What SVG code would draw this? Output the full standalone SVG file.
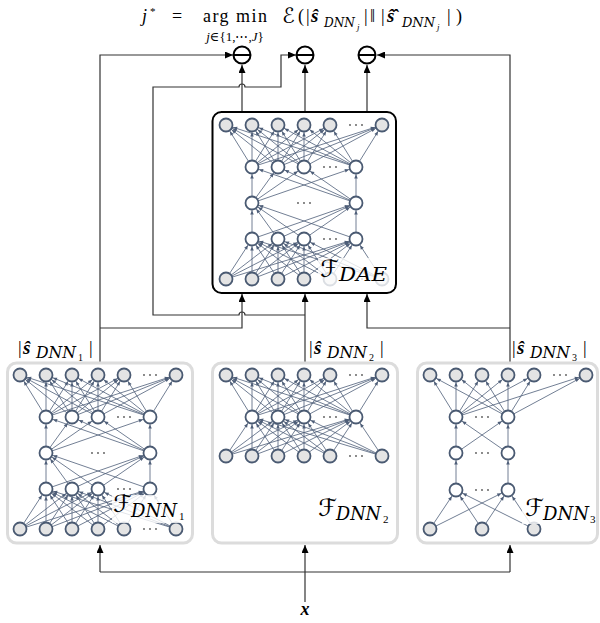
<svg xmlns="http://www.w3.org/2000/svg" width="600" height="623" viewBox="0 0 600 623">
<style>
.dae{fill:#fff;stroke:#000;stroke-width:2}
.dnn{fill:#fff;stroke:#dcdcdc;stroke-width:3}
.e line{stroke:#4e5e78;stroke-width:0.8;marker-end:url(#sa)}
.ng{fill:#e4e4e4;stroke:#4a5a72;stroke-width:1.8}
.nw{fill:#fff;stroke:#4a5a72;stroke-width:1.8}
.dt{fill:#555}
.c{fill:none;stroke:#333;stroke-width:1.2}
.ca{fill:none;stroke:#333;stroke-width:1.2;marker-end:url(#ba)}
.op{fill:#fff;stroke:#000;stroke-width:2}
.t{font-family:"Liberation Serif","DejaVu Serif",serif;fill:#000;font-weight:normal}
.u{font-family:"DejaVu Serif","Liberation Serif",serif;fill:#000;font-weight:normal;font-style:italic}
.s{font-family:"DejaVu Sans","Noto Sans",sans-serif;fill:#000;font-weight:normal}
.i{font-style:italic}
.b{font-weight:bold;font-style:italic}
.lb{fill:#fff;opacity:0.8}
</style>
<defs>
<marker id="sa" markerUnits="userSpaceOnUse" markerWidth="20" markerHeight="20" refX="11.6" refY="0" orient="auto" style="overflow:visible"><path d="M0,-1.8 L4.2,0 L0,1.8 z" fill="#4e5e78"/></marker>
<marker id="ba" markerUnits="userSpaceOnUse" markerWidth="8" markerHeight="7" refX="8" refY="3.5" orient="auto"><path d="M0,0 L8,3.5 L0,7 z" fill="#000"/></marker>
<g id="d" class="dt"><circle cx="-6" r="0.9"/><circle r="0.9"/><circle cx="6" r="0.9"/></g>
<g id="n5">
<g class="e">
<line x1="0" y1="154" x2="26" y2="114"/><line x1="0" y1="154" x2="52" y2="114"/><line x1="0" y1="154" x2="78" y2="114"/><line x1="0" y1="154" x2="130" y2="114"/>
<line x1="26" y1="154" x2="26" y2="114"/><line x1="26" y1="154" x2="52" y2="114"/><line x1="26" y1="154" x2="78" y2="114"/><line x1="26" y1="154" x2="130" y2="114"/>
<line x1="52" y1="154" x2="26" y2="114"/><line x1="52" y1="154" x2="52" y2="114"/><line x1="52" y1="154" x2="78" y2="114"/><line x1="52" y1="154" x2="130" y2="114"/>
<line x1="78" y1="154" x2="26" y2="114"/><line x1="78" y1="154" x2="52" y2="114"/><line x1="78" y1="154" x2="78" y2="114"/><line x1="78" y1="154" x2="130" y2="114"/>
<line x1="104" y1="154" x2="26" y2="114"/><line x1="104" y1="154" x2="52" y2="114"/><line x1="104" y1="154" x2="78" y2="114"/><line x1="104" y1="154" x2="130" y2="114"/>
<line x1="156" y1="154" x2="26" y2="114"/><line x1="156" y1="154" x2="52" y2="114"/><line x1="156" y1="154" x2="78" y2="114"/><line x1="156" y1="154" x2="130" y2="114"/>
<line x1="26" y1="114" x2="26" y2="78"/><line x1="26" y1="114" x2="130" y2="78"/>
<line x1="52" y1="114" x2="26" y2="78"/><line x1="52" y1="114" x2="130" y2="78"/>
<line x1="78" y1="114" x2="26" y2="78"/><line x1="78" y1="114" x2="130" y2="78"/>
<line x1="130" y1="114" x2="26" y2="78"/><line x1="130" y1="114" x2="130" y2="78"/>
<line x1="26" y1="78" x2="26" y2="42"/><line x1="26" y1="78" x2="52" y2="42"/><line x1="26" y1="78" x2="78" y2="42"/><line x1="26" y1="78" x2="130" y2="42"/>
<line x1="130" y1="78" x2="26" y2="42"/><line x1="130" y1="78" x2="52" y2="42"/><line x1="130" y1="78" x2="78" y2="42"/><line x1="130" y1="78" x2="130" y2="42"/>
<line x1="26" y1="42" x2="0" y2="0"/><line x1="26" y1="42" x2="26" y2="0"/><line x1="26" y1="42" x2="52" y2="0"/><line x1="26" y1="42" x2="78" y2="0"/><line x1="26" y1="42" x2="104" y2="0"/><line x1="26" y1="42" x2="156" y2="0"/>
<line x1="52" y1="42" x2="0" y2="0"/><line x1="52" y1="42" x2="26" y2="0"/><line x1="52" y1="42" x2="52" y2="0"/><line x1="52" y1="42" x2="78" y2="0"/><line x1="52" y1="42" x2="104" y2="0"/><line x1="52" y1="42" x2="156" y2="0"/>
<line x1="78" y1="42" x2="0" y2="0"/><line x1="78" y1="42" x2="26" y2="0"/><line x1="78" y1="42" x2="52" y2="0"/><line x1="78" y1="42" x2="78" y2="0"/><line x1="78" y1="42" x2="104" y2="0"/><line x1="78" y1="42" x2="156" y2="0"/>
<line x1="130" y1="42" x2="0" y2="0"/><line x1="130" y1="42" x2="26" y2="0"/><line x1="130" y1="42" x2="52" y2="0"/><line x1="130" y1="42" x2="78" y2="0"/><line x1="130" y1="42" x2="104" y2="0"/><line x1="130" y1="42" x2="156" y2="0"/>
</g>
<g class="ng"><circle cx="0" cy="0" r="6.5"/><circle cx="26" cy="0" r="6.5"/><circle cx="52" cy="0" r="6.5"/><circle cx="78" cy="0" r="6.5"/><circle cx="104" cy="0" r="6.5"/><circle cx="156" cy="0" r="6.5"/></g>
<g class="nw"><circle cx="26" cy="42" r="6.5"/><circle cx="52" cy="42" r="6.5"/><circle cx="78" cy="42" r="6.5"/><circle cx="130" cy="42" r="6.5"/>
<circle cx="26" cy="78" r="6.5"/><circle cx="130" cy="78" r="6.5"/>
<circle cx="26" cy="114" r="6.5"/><circle cx="52" cy="114" r="6.5"/><circle cx="78" cy="114" r="6.5"/><circle cx="130" cy="114" r="6.5"/></g>
<g class="ng"><circle cx="0" cy="154" r="6.5"/><circle cx="26" cy="154" r="6.5"/><circle cx="52" cy="154" r="6.5"/><circle cx="78" cy="154" r="6.5"/><circle cx="104" cy="154" r="6.5"/><circle cx="156" cy="154" r="6.5"/></g>
<use href="#d" x="130" y="0"/><use href="#d" x="104" y="42"/><use href="#d" x="78" y="78"/><use href="#d" x="104" y="114"/><use href="#d" x="130" y="154"/>
</g>
</defs>

<g id="formula">
<text class="t i" x="142" y="22" font-size="18">j</text>
<text class="t" x="150" y="15" font-size="11">*</text>
<text class="t" x="172" y="22" font-size="18">=</text>
<text class="t" x="203" y="22" font-size="18" textLength="64" lengthAdjust="spacing">arg min</text>
<text class="t" x="235" y="41" font-size="13" text-anchor="middle"><tspan class="i">j</tspan>∈{1,⋯,<tspan class="i">J</tspan>}</text>
<text class="s i" x="282" y="23" font-size="21">ℰ</text>
<text class="t" x="298" y="22" font-size="18">(</text>
<text class="t" x="306" y="22" font-size="18">|</text>
<text class="t b" x="311" y="22" font-size="19">ŝ</text>
<text class="u" x="324" y="27" font-size="13" textLength="31" lengthAdjust="spacingAndGlyphs">DNN</text>
<text class="t i" x="357" y="30" font-size="9">j</text>
<text class="t" x="364" y="22" font-size="18">|</text>
<text class="t" x="370" y="22" font-size="18">‖</text>
<text class="t" x="381" y="22" font-size="18">|</text>
<text class="t b" x="387" y="22" font-size="19">ŝ̂</text>
<text class="u" x="402" y="27" font-size="13" textLength="33" lengthAdjust="spacingAndGlyphs">DNN</text>
<text class="t i" x="437" y="30" font-size="9">j</text>
<text class="t" x="447" y="22" font-size="18">|</text>
<text class="t" x="456" y="22" font-size="18">)</text>
</g>

<g id="connectors">
<path class="ca" d="M100,362 V55 H233"/>
<path class="ca" d="M100,328 H242 V294"/>
<path class="ca" d="M305,362 V294"/>
<path class="ca" d="M305,315 H245 A3,3 0 0 0 239,315 H153 V87 H239 A3,3 0 0 1 245,87 H281 V55 H296"/>
<path class="ca" d="M510,362 V55 H377"/>
<path class="ca" d="M510,328 H367 V294"/>
<path class="ca" d="M242,112 V65"/>
<path class="ca" d="M305,112 V65"/>
<path class="ca" d="M367,112 V65"/>
<path class="ca" d="M305,602 V545"/>
<path class="c" d="M100,572 H510"/>
<path class="ca" d="M100,572 V545"/>
<path class="ca" d="M510,572 V545"/>
</g>

<g id="minus1"><circle class="op" cx="242" cy="55" r="8.5"/><line x1="233.5" y1="55" x2="250.5" y2="55" stroke="#000" stroke-width="2"/></g>
<g id="minus2"><circle class="op" cx="305" cy="55" r="8.5"/><line x1="296.5" y1="55" x2="313.5" y2="55" stroke="#000" stroke-width="2"/></g>
<g id="minus3"><circle class="op" cx="367" cy="55" r="8.5"/><line x1="358.5" y1="55" x2="375.5" y2="55" stroke="#000" stroke-width="2"/></g>

<g id="DAE">
<rect class="dae" x="212.5" y="112" width="183.5" height="181" rx="9"/>
<use href="#n5" x="226" y="125"/>
<rect class="lb" x="318" y="258" width="76" height="31"/>
<text class="s i" x="320" y="277" font-size="24">ℱ</text>
<text class="u" x="339" y="281" font-size="19" textLength="48" lengthAdjust="spacingAndGlyphs">DAE</text>
</g>

<g id="DNN1">
<rect class="dnn" x="7.5" y="363" width="185" height="180" rx="9"/>
<use href="#n5" x="20" y="375"/>
<rect class="lb" x="112" y="495" width="78" height="28"/>
<text class="s i" x="113" y="512" font-size="24">ℱ</text>
<text class="u" x="131" y="517" font-size="18" textLength="46" lengthAdjust="spacingAndGlyphs">DNN</text>
<text class="t" x="179" y="520" font-size="11">1</text>
</g>

<g id="DNN2">
<rect class="dnn" x="212.5" y="363" width="185" height="180" rx="9"/>
<g transform="translate(226,375)">
<g class="e">
<line x1="0" y1="81" x2="26" y2="42"/><line x1="0" y1="81" x2="52" y2="42"/><line x1="0" y1="81" x2="78" y2="42"/><line x1="0" y1="81" x2="130" y2="42"/>
<line x1="26" y1="81" x2="26" y2="42"/><line x1="26" y1="81" x2="52" y2="42"/><line x1="26" y1="81" x2="78" y2="42"/><line x1="26" y1="81" x2="130" y2="42"/>
<line x1="52" y1="81" x2="26" y2="42"/><line x1="52" y1="81" x2="52" y2="42"/><line x1="52" y1="81" x2="78" y2="42"/><line x1="52" y1="81" x2="130" y2="42"/>
<line x1="78" y1="81" x2="26" y2="42"/><line x1="78" y1="81" x2="52" y2="42"/><line x1="78" y1="81" x2="78" y2="42"/><line x1="78" y1="81" x2="130" y2="42"/>
<line x1="104" y1="81" x2="26" y2="42"/><line x1="104" y1="81" x2="52" y2="42"/><line x1="104" y1="81" x2="78" y2="42"/><line x1="104" y1="81" x2="130" y2="42"/>
<line x1="156" y1="81" x2="26" y2="42"/><line x1="156" y1="81" x2="52" y2="42"/><line x1="156" y1="81" x2="78" y2="42"/><line x1="156" y1="81" x2="130" y2="42"/>
<line x1="26" y1="42" x2="0" y2="0"/><line x1="26" y1="42" x2="26" y2="0"/><line x1="26" y1="42" x2="52" y2="0"/><line x1="26" y1="42" x2="78" y2="0"/><line x1="26" y1="42" x2="104" y2="0"/><line x1="26" y1="42" x2="156" y2="0"/>
<line x1="52" y1="42" x2="0" y2="0"/><line x1="52" y1="42" x2="26" y2="0"/><line x1="52" y1="42" x2="52" y2="0"/><line x1="52" y1="42" x2="78" y2="0"/><line x1="52" y1="42" x2="104" y2="0"/><line x1="52" y1="42" x2="156" y2="0"/>
<line x1="78" y1="42" x2="0" y2="0"/><line x1="78" y1="42" x2="26" y2="0"/><line x1="78" y1="42" x2="52" y2="0"/><line x1="78" y1="42" x2="78" y2="0"/><line x1="78" y1="42" x2="104" y2="0"/><line x1="78" y1="42" x2="156" y2="0"/>
<line x1="130" y1="42" x2="0" y2="0"/><line x1="130" y1="42" x2="26" y2="0"/><line x1="130" y1="42" x2="52" y2="0"/><line x1="130" y1="42" x2="78" y2="0"/><line x1="130" y1="42" x2="104" y2="0"/><line x1="130" y1="42" x2="156" y2="0"/>
</g>
<g class="ng"><circle cx="0" cy="0" r="6.5"/><circle cx="26" cy="0" r="6.5"/><circle cx="52" cy="0" r="6.5"/><circle cx="78" cy="0" r="6.5"/><circle cx="104" cy="0" r="6.5"/><circle cx="156" cy="0" r="6.5"/>
<circle cx="0" cy="81" r="6.5"/><circle cx="26" cy="81" r="6.5"/><circle cx="52" cy="81" r="6.5"/><circle cx="78" cy="81" r="6.5"/><circle cx="104" cy="81" r="6.5"/><circle cx="156" cy="81" r="6.5"/></g>
<g class="nw"><circle cx="26" cy="42" r="6.5"/><circle cx="52" cy="42" r="6.5"/><circle cx="78" cy="42" r="6.5"/><circle cx="130" cy="42" r="6.5"/></g>
<use href="#d" x="130" y="0"/><use href="#d" x="104" y="42"/><use href="#d" x="130" y="81"/>
</g>
<text class="s i" x="318" y="516" font-size="24">ℱ</text>
<text class="u" x="336" y="520" font-size="18" textLength="45" lengthAdjust="spacingAndGlyphs">DNN</text>
<text class="t" x="383" y="523" font-size="11">2</text>
</g>

<g id="DNN3">
<rect class="dnn" x="417.5" y="363" width="180" height="180" rx="9"/>
<g transform="translate(430,375)">
<g class="e">
<line x1="0" y1="154" x2="26" y2="115"/><line x1="0" y1="154" x2="78" y2="115"/>
<line x1="52" y1="154" x2="26" y2="115"/><line x1="52" y1="154" x2="78" y2="115"/>
<line x1="104" y1="154" x2="26" y2="115"/><line x1="104" y1="154" x2="78" y2="115"/>
<line x1="26" y1="115" x2="26" y2="78"/><line x1="78" y1="115" x2="78" y2="78"/>
<line x1="26" y1="78" x2="26" y2="42"/><line x1="26" y1="78" x2="78" y2="42"/><line x1="78" y1="78" x2="26" y2="42"/><line x1="78" y1="78" x2="78" y2="42"/>
<line x1="26" y1="42" x2="0" y2="0"/><line x1="26" y1="42" x2="26" y2="0"/><line x1="26" y1="42" x2="52" y2="0"/><line x1="26" y1="42" x2="78" y2="0"/><line x1="26" y1="42" x2="104" y2="0"/><line x1="26" y1="42" x2="156" y2="0"/>
<line x1="78" y1="42" x2="0" y2="0"/><line x1="78" y1="42" x2="26" y2="0"/><line x1="78" y1="42" x2="52" y2="0"/><line x1="78" y1="42" x2="78" y2="0"/><line x1="78" y1="42" x2="104" y2="0"/><line x1="78" y1="42" x2="156" y2="0"/>
</g>
<g class="ng"><circle cx="0" cy="0" r="6.5"/><circle cx="26" cy="0" r="6.5"/><circle cx="52" cy="0" r="6.5"/><circle cx="78" cy="0" r="6.5"/><circle cx="104" cy="0" r="6.5"/><circle cx="156" cy="0" r="6.5"/>
<circle cx="0" cy="154" r="6.5"/><circle cx="52" cy="154" r="6.5"/><circle cx="104" cy="154" r="6.5"/></g>
<g class="nw"><circle cx="26" cy="42" r="6.5"/><circle cx="78" cy="42" r="6.5"/><circle cx="26" cy="78" r="6.5"/><circle cx="78" cy="78" r="6.5"/><circle cx="26" cy="115" r="6.5"/><circle cx="78" cy="115" r="6.5"/></g>
<use href="#d" x="130" y="0"/><use href="#d" x="52" y="42"/><use href="#d" x="52" y="78"/><use href="#d" x="52" y="115"/>
</g>
<rect class="lb" x="522" y="495" width="74" height="29"/>
<text class="s i" x="525" y="516" font-size="24">ℱ</text>
<text class="u" x="543" y="520" font-size="18" textLength="46" lengthAdjust="spacingAndGlyphs">DNN</text>
<text class="t" x="590" y="523" font-size="11">3</text>
</g>

<g id="labels">
<text class="t" x="18" y="354" font-size="18">|</text>
<text class="t b" x="23" y="354" font-size="19">ŝ</text>
<text class="u" x="36" y="358" font-size="16" textLength="40" lengthAdjust="spacingAndGlyphs">DNN</text>
<text class="t" x="78" y="361" font-size="10">1</text>
<text class="t" x="89" y="354" font-size="18">|</text>
<text class="t" x="309" y="354" font-size="18">|</text>
<text class="t b" x="314" y="354" font-size="19">ŝ</text>
<text class="u" x="327" y="358" font-size="16" textLength="40" lengthAdjust="spacingAndGlyphs">DNN</text>
<text class="t" x="369" y="361" font-size="10">2</text>
<text class="t" x="380" y="354" font-size="18">|</text>
<text class="t" x="512" y="354" font-size="18">|</text>
<text class="t b" x="517" y="354" font-size="19">ŝ</text>
<text class="u" x="530" y="358" font-size="16" textLength="40" lengthAdjust="spacingAndGlyphs">DNN</text>
<text class="t" x="572" y="361" font-size="10">3</text>
<text class="t" x="583" y="354" font-size="18">|</text>
<text class="t b" x="305" y="615" font-size="18" text-anchor="middle">x</text>
</g>
</svg>
